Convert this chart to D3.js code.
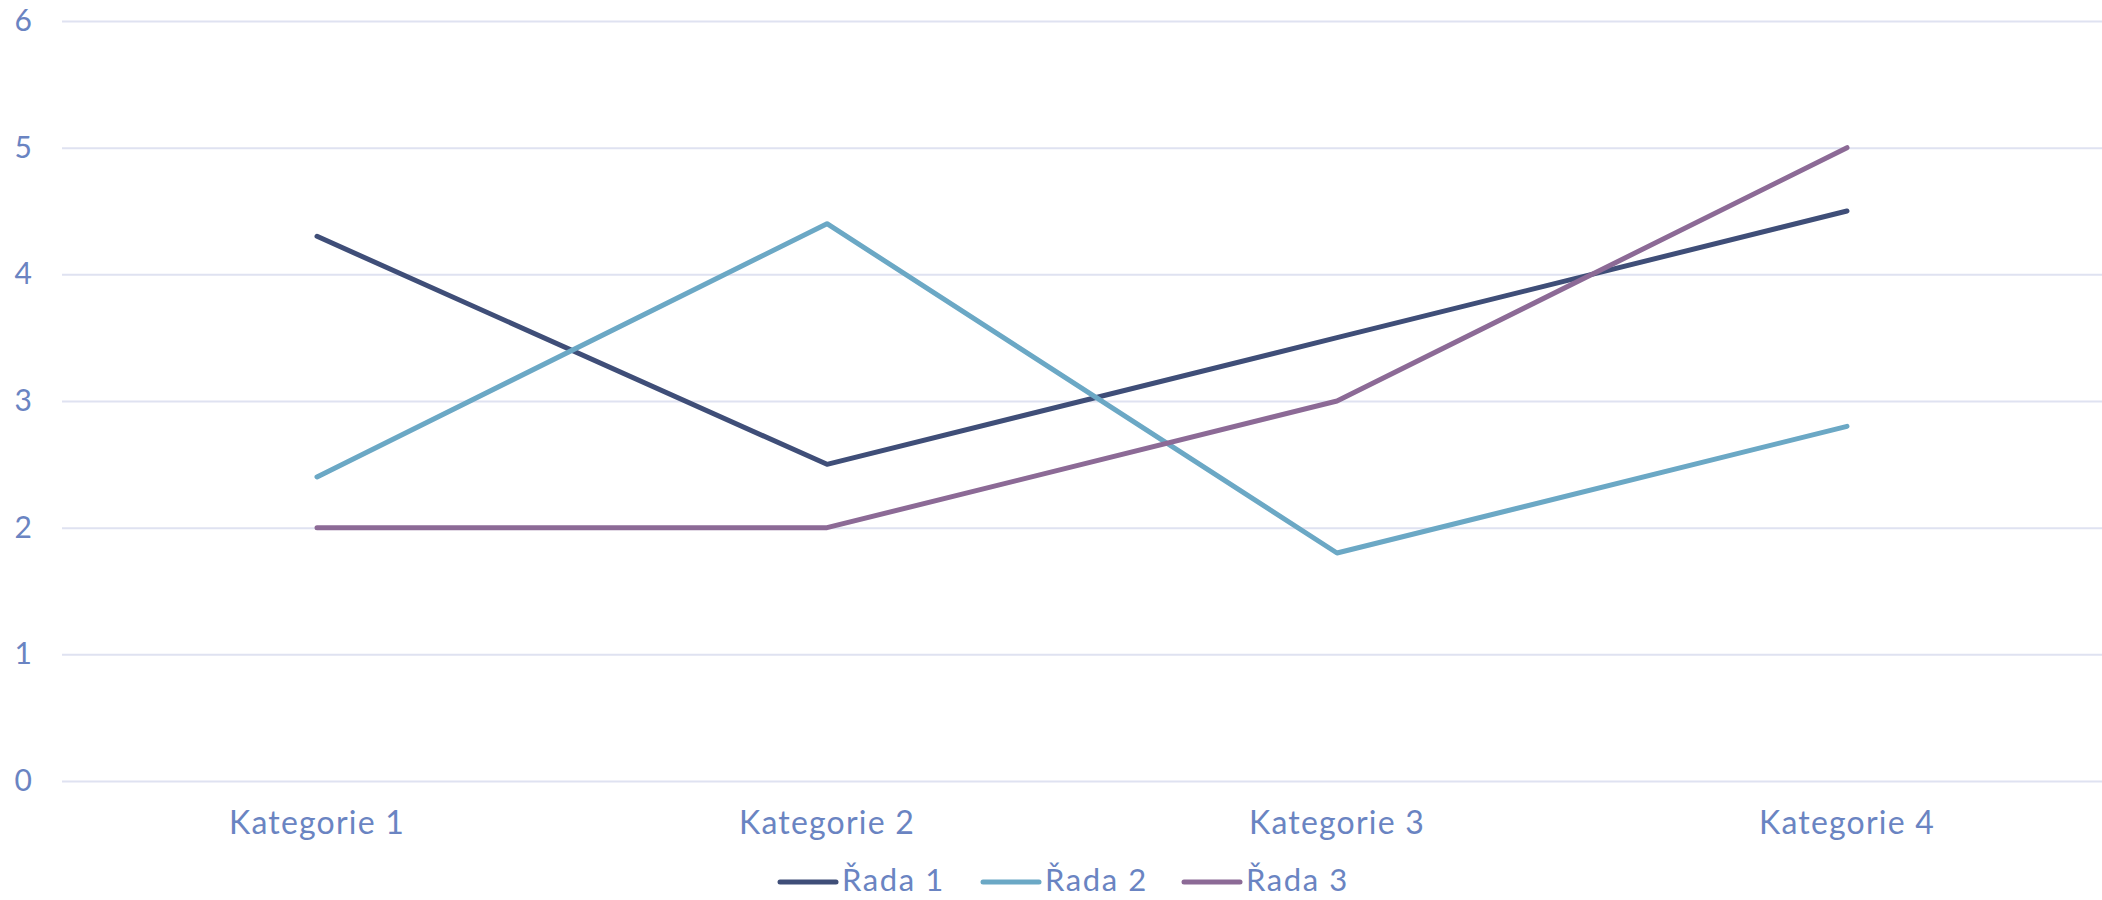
<!DOCTYPE html>
<html>
<head>
<meta charset="utf-8">
<script src="https://cdn.jsdelivr.net/npm/d3@7"></script>
<style>
  body { margin: 0; background: #fff; }
  text { font-family: "Lato", "Open Sans", sans-serif; fill: #6A84C2; }
</style>
</head>
<body>
<svg id="chart" width="2102" height="900"></svg>
<script>
var categories = ["Kategorie 1", "Kategorie 2", "Kategorie 3", "Kategorie 4"];
var seriesNames = ["Řada 1", "Řada 2", "Řada 3"];
var rada1 = [4.3, 2.5, 3.5, 4.5];
var rada2 = [2.4, 4.4, 1.8, 2.8];
var rada3 = [2, 2, 3, 5];
var yTicks = [0, 1, 2, 3, 4, 5, 6];
var colors = ["#3F4E78", "#6BA8C5", "#8C6A96"];

var svg = d3.select("#chart"),
    margin = {top: 21, right: 0, bottom: 119, left: 62},
    width = +svg.attr("width") - margin.left - margin.right,
    height = +svg.attr("height") - margin.top - margin.bottom;

var x = d3.scaleBand().domain(categories).range([0, width]),
    y = d3.scaleLinear().domain([0, 6]).range([height, 0]);

var g = svg.append("g")
    .attr("transform", "translate(" + margin.left + "," + margin.top + ")");

// gridlines
g.append("g")
    .call(d3.axisLeft(y).tickValues(yTicks).tickSize(-width).tickFormat(""))
    .call(function(a) {
      a.select(".domain").remove();
      a.selectAll("line").attr("stroke", "#DFE2F1").attr("stroke-width", 2);
    });

// y labels
g.append("g")
    .call(d3.axisLeft(y).tickValues(yTicks).tickSize(0).tickPadding(30).tickFormat(d3.format("d")))
    .call(function(a) {
      a.select(".domain").remove();
      a.selectAll("text").attr("font-size", 30).attr("fill", "#6A84C2")
        .style("font-family", "Lato, sans-serif");
    });

// x labels
g.append("g")
    .attr("transform", "translate(0," + height + ")")
    .call(d3.axisBottom(x).tickSize(0).tickPadding(30))
    .call(function(a) {
      a.select(".domain").remove();
      a.selectAll("text").attr("font-size", 32).attr("fill", "#6A84C2")
        .style("font-family", "Lato, sans-serif")
        .style("letter-spacing", "1.2px");
    });

var line = d3.line()
    .x(function(d, i) { return x(categories[i]) + x.bandwidth() / 2; })
    .y(function(d) { return y(d); });

var allSeries = [rada1, rada2, rada3];
g.selectAll(".series")
    .data(allSeries)
  .enter().append("path")
    .attr("class", "series")
    .attr("fill", "none")
    .attr("stroke", function(d, i) { return colors[i]; })
    .attr("stroke-width", 5)
    .attr("stroke-linecap", "round")
    .attr("stroke-linejoin", "round")
    .attr("d", line);

// legend
var legendX = [780, 983, 1184];
var legend = svg.append("g");
var item = legend.selectAll(".item")
    .data(seriesNames)
  .enter().append("g")
    .attr("class", "item")
    .attr("transform", function(d, i) { return "translate(" + legendX[i] + ",882)"; });
item.append("line")
    .attr("x1", 0).attr("x2", 56)
    .attr("stroke", function(d, i) { return colors[i]; })
    .attr("stroke-width", 5)
    .attr("stroke-linecap", "round");
item.append("text")
    .attr("x", 62)
    .attr("dy", "0.3em")
    .attr("font-size", 31)
    .style("letter-spacing", "1.6px")
    .text(function(d) { return d; });
</script>
</body>
</html>
